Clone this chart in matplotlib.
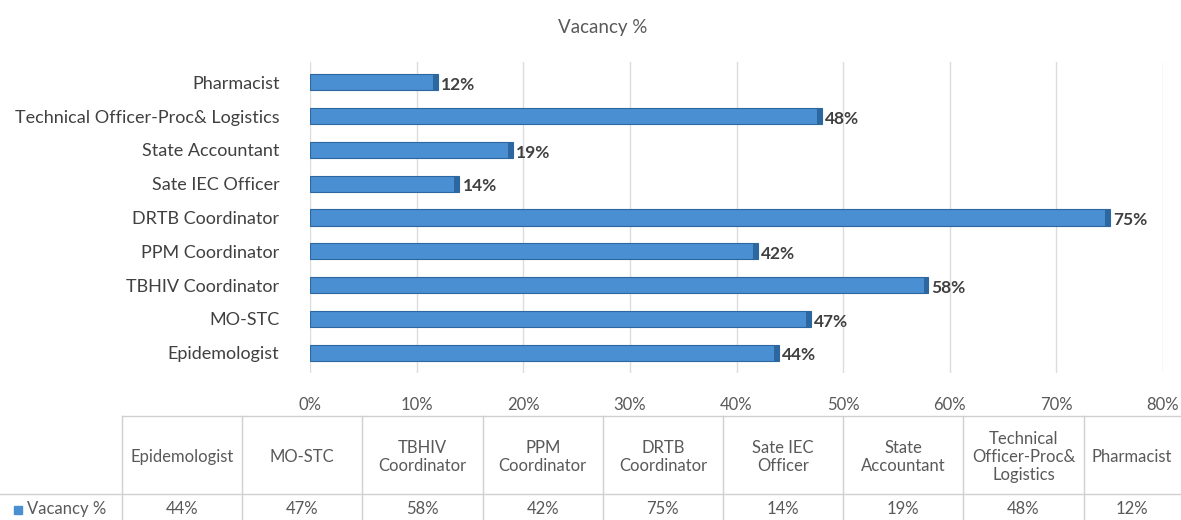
import matplotlib.pyplot as plt
from matplotlib.lines import Line2D
from matplotlib.patches import Rectangle

# data (bottom to top in the bar chart, left to right in the table)
roles = ["Epidemologist", "MO-STC", "TBHIV Coordinator", "PPM Coordinator",
         "DRTB Coordinator", "Sate IEC Officer", "State Accountant",
         "Technical Officer-Proc& Logistics", "Pharmacist"]
table_heads = ["Epidemologist", "MO-STC", "TBHIV\nCoordinator", "PPM\nCoordinator",
               "DRTB\nCoordinator", "Sate IEC\nOfficer", "State\nAccountant",
               "Technical\nOfficer-Proc&\nLogistics", "Pharmacist"]
vacancy = [44, 47, 58, 42, 75, 14, 19, 48, 12]
xticks = [0, 10, 20, 30, 40, 50, 60, 70, 80]

plt.rcParams['font.family'] = ['Lato', 'DejaVu Sans']
grey = '#595959'
blue = '#4a8fd2'
dark = '#2c679f'

W, H = 1181, 520
fig = plt.figure(figsize=(W / 100, H / 100), dpi=100)

ax = fig.add_axes([310 / W, 1 - 373 / H, (1163 - 310) / W, (373 - 62) / H])
ypos = list(range(len(roles)))
ax.barh(ypos, vacancy, height=0.48, color=blue, edgecolor=dark, linewidth=0.8, zorder=3)
# darker end cap for the pseudo-3D look
ax.barh(ypos, [0.45] * len(vacancy), left=[v - 0.45 for v in vacancy], height=0.48,
        color=dark, linewidth=0, zorder=4)
for y, v in zip(ypos, vacancy):
    ax.text(v + 0.3, y - 0.08, f"{v}%", va='center', ha='left', fontsize=12.5,
            color='#404040', fontweight='bold')

ax.set_xlim(0, 80)
ax.set_ylim(-0.6, 8.6)
ax.set_xticks(xticks)
ax.set_xticklabels([f"{t}%" for t in xticks], fontsize=12, color=grey)
ax.set_yticks(ypos)
ax.set_yticklabels(roles, fontsize=13, color='#404040')
ax.tick_params(length=0, axis='x', pad=17)
ax.tick_params(length=0, axis='y', pad=22)
ax.grid(axis='x', color='#dcdcdc', linewidth=1, zorder=0)
for s in ax.spines.values():
    s.set_visible(False)

fig.text(603 / W, 1 - 28 / H, "Vacancy %", ha='center', va='center', fontsize=13.5, color=grey)

# data table under the chart
x0, cw = 122, 120.2
top, mid = 416, 494
lc = '#d0d0d0'
fig.add_artist(Line2D([x0 / W, 1], [1 - top / H] * 2, color=lc, lw=1))
fig.add_artist(Line2D([0, 1], [1 - mid / H] * 2, color=lc, lw=1))
for i in range(len(table_heads) + 1):
    x = (x0 + i * cw) / W
    if x <= 1:
        fig.add_artist(Line2D([x, x], [0, 1 - top / H], color=lc, lw=1))
for i, (h, v) in enumerate(zip(table_heads, vacancy)):
    # last column is partly off the figure edge, keep its text inside
    cx = min(x0 + (i + 0.5) * cw, 1132) / W
    fig.text(cx, 1 - 457 / H, h, ha='center', va='center', fontsize=12, color=grey,
             linespacing=1.15)
    fig.text(cx, 1 - 509 / H, f"{v}%", ha='center', va='center', fontsize=12, color=grey)

fig.add_artist(Rectangle((14 / W, 1 - 514 / H), 8 / W, 8 / H, color=blue))
fig.text(27 / W, 1 - 509 / H, "Vacancy %", ha='left', va='center', fontsize=12, color=grey)

fig.savefig("out.png", dpi=100)
